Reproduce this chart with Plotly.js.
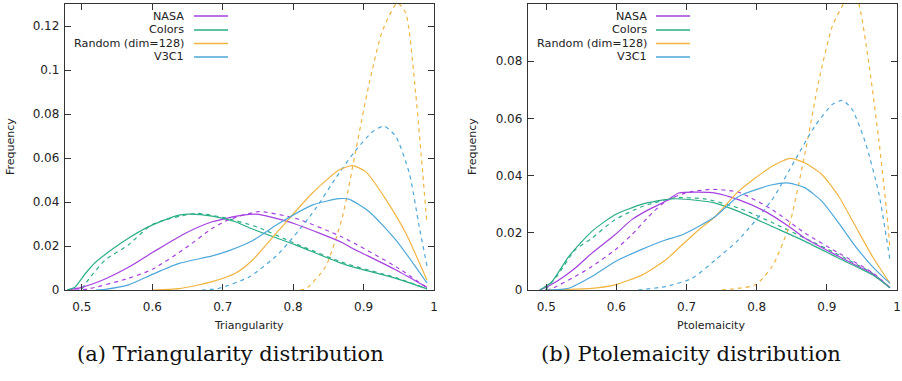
<!DOCTYPE html>
<html>
<head>
<meta charset="utf-8">
<script src="https://cdn.plot.ly/plotly-3.0.1.min.js"></script>
<style>html,body{margin:0;padding:0;background:#fff;}#chart{width:902px;height:381px;}</style>
</head>
<body>
<div id="chart"></div>
<script>
// ---------- Data: (a) Triangularity ----------
const triNasaX = [0.479,0.5,0.533,0.566,0.6,0.614,0.647,0.685,0.728,0.751,0.803,0.870,0.884,0.946,0.99];
const triNasaY = [0,0.0012,0.005,0.0103,0.017,0.0197,0.0258,0.031,0.034,0.0344,0.030,0.0215,0.019,0.0091,0.0012];
const triNasaDX = [0.49,0.509,0.566,0.6,0.647,0.685,0.709,0.751,0.803,0.870,0.946,0.99];
const triNasaDY = [0,0.0005,0.0053,0.0094,0.019,0.028,0.032,0.0356,0.0326,0.024,0.0106,0.001];
const triColorsX = [0.479,0.490,0.505,0.519,0.543,0.566,0.590,0.614,0.638,0.652,0.685,0.718,0.742,0.803,0.875,0.946,0.99];
const triColorsY = [0,0.0012,0.0075,0.0125,0.0185,0.0235,0.028,0.0314,0.034,0.0345,0.0336,0.031,0.0277,0.0205,0.0114,0.0053,0.0005];
const triColorsDX = [0.5,0.51,0.533,0.566,0.6,0.661,0.7,0.75,0.8,0.875,0.946,0.99];
const triColorsDY = [0.0005,0.005,0.0136,0.0205,0.0298,0.0348,0.033,0.0285,0.0215,0.012,0.0056,0.0005];
const triRandomX = [0.6,0.638,0.685,0.718,0.742,0.780,0.827,0.865,0.884,0.903,0.932,0.960,0.99];
const triRandomY = [0,0.0006,0.0038,0.0076,0.0135,0.0273,0.044,0.0545,0.0565,0.0538,0.041,0.0258,0.0045];
const triRandomDX = [0.81,0.818,0.846,0.870,0.889,0.908,0.927,0.948,0.960,0.974,0.984,0.99];
const triRandomDY = [0,0.0005,0.0106,0.0333,0.0636,0.094,0.118,0.1305,0.1258,0.0894,0.053,0.03];
const triV3c1X = [0.52,0.533,0.566,0.6,0.638,0.685,0.709,0.742,0.780,0.827,0.865,0.879,0.908,0.946,0.99];
const triV3c1Y = [0,0.0003,0.0023,0.0071,0.0121,0.0155,0.0179,0.0224,0.0303,0.0386,0.0415,0.0413,0.0356,0.0227,0.0032];
const triV3c1DX = [0.67,0.695,0.738,0.780,0.827,0.865,0.889,0.913,0.929,0.946,0.965,0.979,0.99];
const triV3c1DY = [0,0.0008,0.006,0.0167,0.0348,0.053,0.0636,0.072,0.0745,0.0697,0.053,0.0288,0.011];

// ---------- Data: (b) Ptolemaicity ----------
const ptoNasaX = [0.49,0.496,0.518,0.541,0.565,0.598,0.622,0.646,0.670,0.689,0.717,0.741,0.774,0.812,0.846,0.869,0.917,0.965,0.99];
const ptoNasaY = [0,0.0005,0.0035,0.0076,0.0129,0.0193,0.0246,0.0281,0.031,0.0339,0.0342,0.0339,0.0316,0.0275,0.0222,0.0181,0.0117,0.0056,0.0008];
const ptoNasaDX = [0.50,0.508,0.541,0.565,0.598,0.622,0.646,0.670,0.698,0.736,0.774,0.822,0.869,0.917,0.965,0.99];
const ptoNasaDY = [0,0.0005,0.0047,0.0082,0.014,0.0193,0.0257,0.031,0.0339,0.0352,0.0342,0.0281,0.0199,0.0129,0.0061,0.0008];
const ptoColorsX = [0.491,0.508,0.532,0.565,0.598,0.637,0.670,0.684,0.717,0.741,0.774,0.822,0.869,0.917,0.965,0.99];
const ptoColorsY = [0,0.0029,0.0117,0.0205,0.0263,0.030,0.0316,0.0319,0.0313,0.0304,0.0275,0.0222,0.017,0.0111,0.0053,0.0008];
const ptoColorsDX = [0.499,0.518,0.541,0.565,0.598,0.637,0.684,0.727,0.774,0.822,0.869,0.917,0.965,0.99];
const ptoColorsDY = [0,0.0058,0.014,0.0181,0.0246,0.0292,0.0322,0.0318,0.0287,0.0236,0.0181,0.0123,0.0058,0.0008];
const ptoRandomX = [0.50,0.565,0.598,0.637,0.670,0.694,0.717,0.741,0.774,0.822,0.848,0.869,0.893,0.917,0.941,0.965,0.99];
const ptoRandomY = [0,0.0006,0.0018,0.0053,0.0105,0.0158,0.021,0.0257,0.0345,0.0433,0.046,0.0444,0.0404,0.0327,0.0222,0.0117,0.0023];
const ptoRandomDX = [0.75,0.798,0.822,0.846,0.869,0.888,0.908,0.926,0.935,0.945,0.959,0.974,0.986,0.99];
const ptoRandomDY = [0,0.0018,0.0082,0.0222,0.048,0.0725,0.0924,0.101,0.104,0.1005,0.0807,0.0526,0.0257,0.0142];
const ptoV3c1X = [0.50,0.532,0.565,0.598,0.637,0.670,0.694,0.717,0.741,0.774,0.822,0.846,0.869,0.893,0.917,0.941,0.965,0.99];
const ptoV3c1Y = [0,0.0006,0.0047,0.0099,0.0143,0.0175,0.0193,0.0222,0.0257,0.0327,0.0368,0.0374,0.0357,0.031,0.0234,0.0152,0.0082,0.0023];
const ptoV3c1DX = [0.631,0.670,0.708,0.741,0.774,0.822,0.855,0.883,0.908,0.922,0.936,0.955,0.974,0.99];
const ptoV3c1DY = [0,0.0012,0.0041,0.0105,0.0175,0.0316,0.0456,0.0573,0.0649,0.0663,0.0632,0.0515,0.0339,0.0105];

const seriesNames = ['NASA','Colors','Random (dim=128)','V3C1'];
const xTickVals = [0.5,0.6,0.7,0.8,0.9,1];
const xTickText = ['0.5','0.6','0.7','0.8','0.9','1'];
const triYTickVals = [0,0.02,0.04,0.06,0.08,0.1,0.12];
const triYTickText = ['0','0.02','0.04','0.06','0.08','0.1','0.12'];
const ptoYTickVals = [0,0.02,0.04,0.06,0.08,0.1];
const ptoYTickText = ['0','0.02','0.04','0.06','0.08','0.1'];
const xTitles = ['Triangularity','Ptolemaicity'];
const yTitle = 'Frequency';
const captions = ['(a) Triangularity distribution','(b) Ptolemaicity distribution'];

// ---------- Styling ----------
const colors = ['#a541e0','#2bae87','#f0b440','#4ea7d9'];
const W = 902, H = 381;
const px = v => v / W, py = v => 1 - v / H;

const panels = [
  {xa:'x', ya:'y', sets:[[triNasaX,triNasaY,triNasaDX,triNasaDY],[triColorsX,triColorsY,triColorsDX,triColorsDY],[triRandomX,triRandomY,triRandomDX,triRandomDY],[triV3c1X,triV3c1Y,triV3c1DX,triV3c1DY]]},
  {xa:'x2', ya:'y2', sets:[[ptoNasaX,ptoNasaY,ptoNasaDX,ptoNasaDY],[ptoColorsX,ptoColorsY,ptoColorsDX,ptoColorsDY],[ptoRandomX,ptoRandomY,ptoRandomDX,ptoRandomDY],[ptoV3c1X,ptoV3c1Y,ptoV3c1DX,ptoV3c1DY]]}
];

const traces = [];
panels.forEach(p => {
  p.sets.forEach((s, i) => {
    traces.push({x:s[2], y:s[3], xaxis:p.xa, yaxis:p.ya, mode:'lines', showlegend:false, hoverinfo:'skip',
      line:{color:colors[i], width:1.2, dash:'4px,4px', shape:'spline', smoothing:0.6}});
  });
  p.sets.forEach((s, i) => {
    traces.push({x:s[0], y:s[1], xaxis:p.xa, yaxis:p.ya, mode:'lines', name:seriesNames[i], showlegend:false, hoverinfo:'skip',
      line:{color:colors[i], width:1.2, shape:'spline', smoothing:0.6}});
  });
});

const tickFont = {family:'DejaVu Sans', size:12, color:'#222'};
function axis(extra) {
  return Object.assign({showline:true, linecolor:'#333', linewidth:1.2, mirror:'allticks', ticks:'inside', ticklen:6, tickcolor:'#333', tickwidth:1,
    showgrid:false, zeroline:false, tickfont:tickFont, fixedrange:true}, extra);
}

const annotations = [];
const shapes = [];
const panelGeom = [
  {xt:249, yt:10, legTextR:186, legL:194, legR:228, cap:230},
  {xt:711, yt:472, legTextR:649, legL:656, legR:690, cap:691}
];
panelGeom.forEach((g, k) => {
  annotations.push({xref:'paper', yref:'paper', x:px(g.xt), y:py(325), text:xTitles[k], showarrow:false, xanchor:'center', yanchor:'middle',
    font:{family:'DejaVu Sans', size:11, color:'#222'}});
  annotations.push({xref:'paper', yref:'paper', x:px(g.yt), y:py(147), text:yTitle, showarrow:false, textangle:-90, xanchor:'center', yanchor:'middle',
    font:{family:'DejaVu Sans', size:11, color:'#222'}});
  annotations.push({xref:'paper', yref:'paper', x:px(g.cap), y:py(354), text:captions[k], showarrow:false, xanchor:'center', yanchor:'middle',
    font:{family:'DejaVu Serif', size:21, color:'#111'}});
  const rows = [16, 30, 43.5, 57];
  seriesNames.forEach((n, i) => {
    annotations.push({xref:'paper', yref:'paper', x:px(g.legTextR), y:py(rows[i]), text:n, showarrow:false, xanchor:'right', yanchor:'middle',
      font:{family:'DejaVu Sans', size:11.2, color:'#222'}});
    shapes.push({type:'line', xref:'paper', yref:'paper', x0:px(g.legL), x1:px(g.legR), y0:py(rows[i]), y1:py(rows[i]),
      line:{color:colors[i], width:1.5}});
  });
});

const layout = {
  width:W, height:H, margin:{l:0, r:0, t:0, b:0}, paper_bgcolor:'#fff', plot_bgcolor:'#fff', showlegend:false,
  xaxis: axis({domain:[px(65), px(434)], range:[0.476, 1.0], tickvals:xTickVals, ticktext:xTickText, anchor:'y', ticklabelstandoff:5}),
  yaxis: axis({domain:[py(290), py(4)], range:[0, 0.13], tickvals:triYTickVals, ticktext:triYTickText, anchor:'x', ticklabelstandoff:2}),
  xaxis2: axis({domain:[px(528), px(897)], range:[0.474, 1.0], tickvals:xTickVals, ticktext:xTickText, anchor:'y2', ticklabelstandoff:5}),
  yaxis2: axis({domain:[py(290), py(4)], range:[0, 0.1], tickvals:ptoYTickVals, ticktext:ptoYTickText, anchor:'x2', ticklabelstandoff:2}),
  annotations, shapes
};

Plotly.newPlot('chart', traces, layout, {displayModeBar:false, staticPlot:true});
</script>
</body>
</html>
